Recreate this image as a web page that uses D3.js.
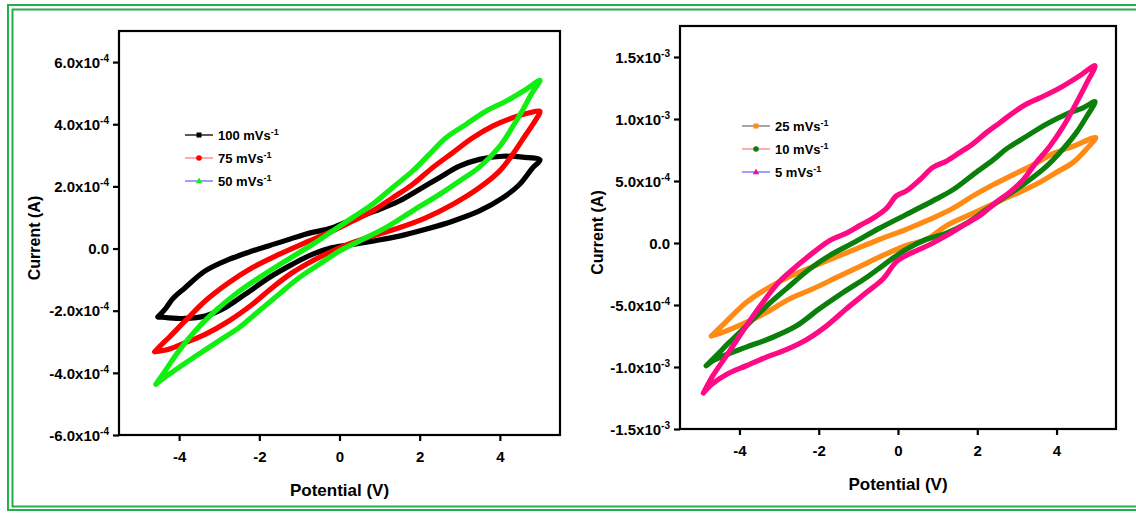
<!DOCTYPE html>
<html>
<head>
<meta charset="utf-8">
<script src="https://cdn.jsdelivr.net/npm/d3@7"></script>
<style>
  html, body { margin: 0; padding: 0; background: #fff; }
  svg { display: block; }
  text { font-family: "Liberation Sans", Arial, sans-serif; font-weight: bold; fill: #000; }
</style>
</head>
<body>
<svg id="chart" width="1136" height="513"></svg>
<script>
// ---------------- DATA ----------------
// Potential (V) ticks shared by both panels
const xTicks = [-4, -2, 0, 2, 4];
const xTickLabels = ["-4", "-2", "0", "2", "4"];

// Left panel: current in units of 1e-4 A
const leftYTicks = [6, 4, 2, 0, -2, -4, -6];
const leftYLabels = [["6.0x10", "-4"], ["4.0x10", "-4"], ["2.0x10", "-4"], ["0.0", ""], ["-2.0x10", "-4"], ["-4.0x10", "-4"], ["-6.0x10", "-4"]];

// Right panel: current in units of 1e-3 A
const rightYTicks = [1.5, 1.0, 0.5, 0, -0.5, -1.0, -1.5];
const rightYLabels = [["1.5x10", "-3"], ["1.0x10", "-3"], ["5.0x10", "-4"], ["0.0", ""], ["-5.0x10", "-4"], ["-1.0x10", "-3"], ["-1.5x10", "-3"]];

// Scan-rate labels
const leftSeriesNames = ["100 mVs", "75 mVs", "50 mVs"];
const rightSeriesNames = ["25 mVs", "10 mVs", "5 mVs"];

// CV loops: [potential V, current] (forward branch then reverse branch)
const cv100 = [[-4.53,-2.20],[-4.35,-1.95],[-4.15,-1.60],[-3.85,-1.26],[-3.35,-0.72],[-2.76,-0.35],[-2.18,-0.08],[-1.51,0.19],[-0.85,0.46],[-0.18,0.67],[0.32,0.94],[0.90,1.21],[1.49,1.53],[1.99,1.90],[2.49,2.28],[2.99,2.65],[3.49,2.87],[4.07,2.97],[4.57,2.94],[5.00,2.85],
  [4.82,2.60],[4.49,2.06],[4.07,1.63],[3.49,1.21],[2.82,0.88],[2.15,0.62],[1.49,0.40],[0.82,0.24],[0.32,0.13],[-0.18,0.03],[-0.68,-0.19],[-1.18,-0.51],[-1.76,-0.94],[-2.35,-1.47],[-2.85,-1.90],[-3.35,-2.17],[-3.85,-2.25],[-4.35,-2.22],[-4.53,-2.20]];
const cv75 = [[-4.61,-3.32],[-4.43,-3.08],[-4.26,-2.87],[-3.85,-2.33],[-3.35,-1.69],[-2.76,-1.10],[-2.18,-0.62],[-1.51,-0.19],[-0.85,0.19],[-0.18,0.56],[0.32,0.88],[0.82,1.21],[1.32,1.63],[1.82,2.06],[2.32,2.60],[2.82,3.08],[3.32,3.56],[3.82,3.94],[4.32,4.21],[4.74,4.37],[5.00,4.42],
  [4.90,4.15],[4.65,3.67],[4.32,3.03],[3.99,2.49],[3.49,1.96],[2.82,1.42],[2.15,0.99],[1.49,0.67],[0.82,0.40],[0.32,0.19],[-0.18,-0.08],[-0.68,-0.40],[-1.18,-0.78],[-1.68,-1.26],[-2.18,-1.80],[-2.76,-2.33],[-3.35,-2.76],[-3.85,-3.03],[-4.26,-3.24],[-4.61,-3.32]];
const cv50 = [[-4.58,-4.37],[-4.35,-3.94],[-4.01,-3.30],[-3.60,-2.65],[-3.10,-2.01],[-2.60,-1.47],[-2.01,-0.94],[-1.35,-0.40],[-0.68,0.13],[-0.18,0.56],[0.32,0.99],[0.82,1.42],[1.32,1.96],[1.82,2.49],[2.24,3.03],[2.65,3.56],[3.15,3.99],[3.65,4.42],[4.15,4.74],[4.65,5.12],[5.00,5.41],
  [4.80,5.00],[4.57,4.46],[4.32,3.92],[3.99,3.28],[3.49,2.62],[2.99,2.17],[2.49,1.74],[1.82,1.21],[1.15,0.67],[0.49,0.24],[0.00,-0.08],[-0.51,-0.51],[-1.01,-0.94],[-1.51,-1.47],[-2.01,-2.01],[-2.51,-2.55],[-3.01,-2.97],[-3.51,-3.40],[-4.01,-3.83],[-4.43,-4.21],[-4.58,-4.37]];

const cv25 = [[-4.71,-0.75],[-4.42,-0.66],[-3.83,-0.48],[-3.32,-0.37],[-2.73,-0.27],[-2.15,-0.19],[-1.30,-0.08],[-0.46,0.03],[0.21,0.11],[0.80,0.19],[1.39,0.28],[1.89,0.38],[2.40,0.47],[2.90,0.55],[3.41,0.63],[3.91,0.72],[4.42,0.78],[4.99,0.85],
  [4.76,0.76],[4.42,0.65],[4.00,0.57],[3.58,0.49],[3.07,0.41],[2.57,0.34],[1.89,0.24],[1.22,0.14],[0.72,0.03],[0.21,-0.02],[-0.38,-0.10],[-0.97,-0.19],[-1.56,-0.28],[-2.15,-0.37],[-2.73,-0.45],[-3.32,-0.56],[-3.83,-0.64],[-4.42,-0.72],[-4.71,-0.75]];
const cv10 = [[-4.84,-0.99],[-4.59,-0.91],[-4.25,-0.80],[-3.83,-0.67],[-3.32,-0.51],[-2.82,-0.37],[-2.23,-0.21],[-1.72,-0.10],[-1.14,0.00],[-0.46,0.12],[0.21,0.23],[0.88,0.34],[1.39,0.43],[1.89,0.55],[2.40,0.67],[2.74,0.76],[3.24,0.86],[3.75,0.96],[4.25,1.04],[4.67,1.09],[4.97,1.14],
  [4.76,1.02],[4.50,0.89],[4.17,0.76],[3.75,0.62],[3.24,0.49],[2.74,0.38],[2.23,0.27],[1.73,0.16],[1.22,0.08],[0.72,0.03],[0.21,-0.05],[-0.29,-0.16],[-0.80,-0.28],[-1.39,-0.40],[-1.98,-0.53],[-2.57,-0.67],[-3.16,-0.76],[-3.83,-0.84],[-4.33,-0.90],[-4.67,-0.95],[-4.84,-0.99]];
const cv5 = [[-4.91,-1.21],[-4.67,-1.07],[-4.33,-0.91],[-4.00,-0.75],[-3.66,-0.59],[-3.32,-0.44],[-2.99,-0.31],[-2.57,-0.19],[-2.15,-0.08],[-1.72,0.02],[-1.30,0.08],[-0.97,0.14],[-0.63,0.20],[-0.29,0.28],[-0.04,0.38],[0.21,0.42],[0.55,0.51],[0.88,0.61],[1.22,0.66],[1.56,0.73],[1.89,0.80],[2.23,0.89],[2.57,0.97],[2.90,1.05],[3.24,1.12],[3.58,1.17],[4.08,1.25],[4.59,1.35],[4.97,1.43],
  [4.76,1.29],[4.50,1.13],[4.17,0.94],[3.83,0.78],[3.49,0.65],[3.16,0.51],[2.82,0.41],[2.48,0.33],[2.06,0.22],[1.64,0.14],[1.22,0.06],[0.88,0.00],[0.55,-0.05],[0.21,-0.10],[-0.04,-0.15],[-0.38,-0.29],[-0.80,-0.40],[-1.30,-0.53],[-1.81,-0.67],[-2.31,-0.78],[-2.82,-0.86],[-3.32,-0.92],[-3.83,-0.99],[-4.33,-1.06],[-4.70,-1.14],[-4.91,-1.21]];

// ---------------- DRAW ----------------
const svg = d3.select("#chart");
svg.append("rect").attr("width", 1136).attr("height", 513).attr("fill", "#fff");

// double green border
const borderColor = "#22b04c";
svg.append("rect").attr("x", 8).attr("y", 5).attr("width", 1140).attr("height", 505)
  .attr("fill", "none").attr("stroke", borderColor).attr("stroke-width", 2);
svg.append("rect").attr("x", 12.5).attr("y", 9.5).attr("width", 1140).attr("height", 497)
  .attr("fill", "none").attr("stroke", borderColor).attr("stroke-width", 2);

function panel(cfg) {
  const x = d3.scaleLinear().domain([-5.5, 5.5]).range([cfg.x0, cfg.x1]);
  const y = d3.scaleLinear().domain(cfg.yDomain).range([cfg.y1, cfg.y0]);
  const g = svg.append("g");

  // curves
  const line = d3.line().x(d => x(d[0])).y(d => y(d[1])).curve(d3.curveCatmullRom.alpha(0.5));
  cfg.series.forEach(s => {
    g.append("path").datum(s.data).attr("d", line)
      .attr("fill", "none").attr("stroke", s.color).attr("stroke-width", 5.2)
      .attr("stroke-linejoin", "round").attr("stroke-linecap", "round");
  });

  // frame
  g.append("rect").attr("x", cfg.x0).attr("y", cfg.y0)
    .attr("width", cfg.x1 - cfg.x0).attr("height", cfg.y1 - cfg.y0)
    .attr("fill", "none").attr("stroke", "#000").attr("stroke-width", 2.2);

  // x axis
  const xa = g.append("g").attr("transform", `translate(0,${cfg.y1})`)
    .call(d3.axisBottom(x).tickValues(xTicks).tickSize(6).tickPadding(10)
      .tickFormat((d, i) => xTickLabels[i]));
  xa.select(".domain").remove();
  xa.selectAll(".tick line").attr("stroke", "#000").attr("stroke-width", 2.2);
  xa.selectAll(".tick text").attr("font-size", 15).attr("font-family", "Liberation Sans, Arial, sans-serif")
    .attr("font-weight", "bold").attr("fill", "#000");

  // y axis
  const ya = g.append("g").attr("transform", `translate(${cfg.x0},0)`)
    .call(d3.axisLeft(y).tickValues(cfg.yTicks).tickSize(6).tickPadding(5).tickFormat(""));
  ya.select(".domain").remove();
  ya.selectAll(".tick line").attr("stroke", "#000").attr("stroke-width", 2.2);
  ya.selectAll(".tick text").each(function(d, i) {
    const t = d3.select(this).attr("font-size", 15).attr("font-family", "Liberation Sans, Arial, sans-serif")
      .attr("font-weight", "bold").attr("fill", "#000").attr("x", -10).attr("dy", "0.35em").text(null);
    const lab = cfg.yLabels[i];
    t.append("tspan").text(lab[0]);
    if (lab[1]) t.append("tspan").attr("font-size", 10).attr("dy", -6).text(lab[1]);
  });

  // axis titles
  g.append("text").attr("x", (cfg.x0 + cfg.x1) / 2).attr("y", cfg.y1 + 61)
    .attr("text-anchor", "middle").attr("font-size", 17).text("Potential (V)");
  g.append("text").attr("transform", `translate(${cfg.titleX},${(cfg.y0 + cfg.y1) / 2 + 5}) rotate(-90)`)
    .attr("text-anchor", "middle").attr("font-size", 16).text("Current (A)");

  // legend
  cfg.series.forEach((s, i) => {
    const ly = cfg.legY + i * cfg.legDy;
    const lx = cfg.legX;
    g.append("line").attr("x1", lx).attr("x2", lx + 28).attr("y1", ly).attr("y2", ly)
      .attr("stroke", s.legLine).attr("stroke-width", 1.3);
    const mx = lx + 14;
    if (s.marker === "square") {
      g.append("rect").attr("x", mx - 2.5).attr("y", ly - 2.5).attr("width", 5).attr("height", 5).attr("fill", s.color);
    } else if (s.marker === "circle") {
      g.append("circle").attr("cx", mx).attr("cy", ly).attr("r", 2.8).attr("fill", s.color);
    } else {
      g.append("path").attr("d", `M${mx},${ly - 3.5}L${mx + 3.2},${ly + 2.2}L${mx - 3.2},${ly + 2.2}Z`).attr("fill", s.color);
    }
    const t = g.append("text").attr("x", lx + 33).attr("y", ly).attr("dy", "0.35em").attr("font-size", 13);
    t.append("tspan").text(s.name);
    t.append("tspan").attr("font-size", 9).attr("dy", -5).text("-1");
  });
}

panel({
  x0: 119, x1: 560, y0: 31, y1: 435, yDomain: [-6, 7],
  yTicks: leftYTicks, yLabels: leftYLabels, titleX: 40,
  legX: 185, legY: 135, legDy: 23,
  series: [
    { name: leftSeriesNames[0], data: cv100, color: "#000000", legLine: "#000000", marker: "square" },
    { name: leftSeriesNames[1], data: cv75, color: "#ff0000", legLine: "#ff7a7a", marker: "circle" },
    { name: leftSeriesNames[2], data: cv50, color: "#11ee11", legLine: "#6a6aff", marker: "triangle" }
  ]
});

panel({
  x0: 680, x1: 1116, y0: 26, y1: 429, yDomain: [-1.5, 1.75],
  yTicks: rightYTicks, yLabels: rightYLabels, titleX: 603,
  legX: 742, legY: 126, legDy: 23,
  series: [
    { name: rightSeriesNames[0], data: cv25, color: "#ff8a14", legLine: "#777777", marker: "square" },
    { name: rightSeriesNames[1], data: cv10, color: "#0a800a", legLine: "#ff8080", marker: "circle" },
    { name: rightSeriesNames[2], data: cv5, color: "#ff0a84", legLine: "#6a6aff", marker: "triangle" }
  ]
});
</script>
</body>
</html>
